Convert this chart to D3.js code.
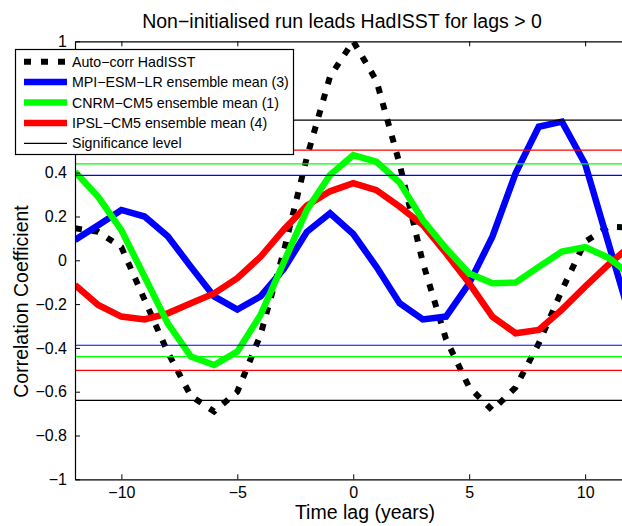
<!DOCTYPE html>
<html>
<head>
<meta charset="utf-8">
<script src="https://cdn.jsdelivr.net/npm/d3@7"></script>
<style>
  html, body { margin: 0; padding: 0; background: #fff; }
  svg { display: block; }
  text { font-family: "Liberation Sans", Arial, sans-serif; fill: #000; }
</style>
</head>
<body>
<svg id="chart" width="622" height="526"></svg>
<script>
// ---- data ----
const lags = [-12,-11,-10,-9,-8,-7,-6,-5,-4,-3,-2,-1,0,1,2,3,4,5,6,7,8,9,10,11,12];
const autoHadISST = [0.146,0.13,0.06,-0.18,-0.42,-0.62,-0.69,-0.6,-0.34,0.04,0.47,0.84,1.0,0.82,0.44,-0.01,-0.36,-0.58,-0.685,-0.58,-0.38,-0.136,0.085,0.153,0.15];
const mpiMean = [0.093,0.16,0.23,0.20,0.11,-0.03,-0.165,-0.225,-0.165,-0.04,0.13,0.215,0.12,-0.03,-0.196,-0.27,-0.257,-0.105,0.108,0.397,0.61,0.633,0.44,0.08,-0.28];
const cnrmMean = [0.405,0.29,0.138,-0.075,-0.288,-0.44,-0.478,-0.417,-0.25,-0.01,0.23,0.39,0.48,0.45,0.355,0.184,0.055,-0.06,-0.105,-0.102,-0.03,0.04,0.06,0.012,-0.07];
const ipslMean = [-0.113,-0.204,-0.257,-0.27,-0.242,-0.196,-0.151,-0.082,0.016,0.14,0.25,0.315,0.352,0.32,0.245,0.161,0.032,-0.105,-0.257,-0.333,-0.318,-0.225,-0.12,-0.02,0.07];
const sigLevels = [
  {name: "HadISST", value: 0.64, color: "#000000"},
  {name: "IPSL", value: 0.503, color: "#ff0000"},
  {name: "CNRM", value: 0.44, color: "#00ff00"},
  {name: "MPI", value: 0.388, color: "#0000ff"}
];
const xTicks = [-10,-5,0,5,10];
const yTicks = [-1,-0.8,-0.6,-0.4,-0.2,0,0.2,0.4,0.6,0.8,1];
const legendLabels = ["Auto\u2212corr HadISST","MPI\u2212ESM\u2212LR ensemble mean (3)","CNRM\u2212CM5 ensemble mean (1)","IPSL\u2212CM5 ensemble mean (4)","Significance level"];
const titleText = "Non\u2212initialised run leads HadISST for lags > 0";

// ---- layout ----
const svg = d3.select("#chart");
const L = 75, R = 631.5, T = 41.3, B = 479.3;
const x = d3.scaleLinear().domain([-12, 12]).range([L, R]);
const y = d3.scaleLinear().domain([-1, 1]).range([B, T]);
const fmt = v => (v < 0 ? "\u2212" : "") + (Math.abs(v) === 0 ? "0" : String(+Math.abs(v).toFixed(1)));

svg.append("defs").append("clipPath").attr("id", "plotclip")
  .append("rect").attr("x", L).attr("y", T).attr("width", R - L).attr("height", B - T);

const plot = svg.append("g").attr("clip-path", "url(#plotclip)");
const line = d3.line().x((d, i) => x(lags[i])).y(d => y(d));

// series
plot.append("path").datum(autoHadISST).attr("d", line)
  .attr("fill", "none").attr("stroke", "#000").attr("stroke-width", 6)
  .attr("stroke-dasharray", "7,10");
plot.append("path").datum(mpiMean).attr("d", line)
  .attr("fill", "none").attr("stroke", "#0000ff").attr("stroke-width", 6.5).attr("stroke-linejoin", "miter");
plot.append("path").datum(ipslMean).attr("d", line)
  .attr("fill", "none").attr("stroke", "#ff0000").attr("stroke-width", 6.5).attr("stroke-linejoin", "miter");
plot.append("path").datum(cnrmMean).attr("d", line)
  .attr("fill", "none").attr("stroke", "#00ff00").attr("stroke-width", 6.5).attr("stroke-linejoin", "miter");

// significance levels
sigLevels.forEach(s => {
  [s.value, -s.value].forEach(v => {
    plot.append("line").attr("x1", L).attr("x2", R).attr("y1", y(v)).attr("y2", y(v))
      .attr("stroke", s.color).attr("stroke-width", 1.2);
  });
});

// axes (MATLAB style, inward ticks)
const axB = d3.axisBottom(x).tickValues(xTicks).tickSizeInner(-5).tickSizeOuter(0).tickPadding(11).tickFormat(fmt);
const gB = svg.append("g").attr("transform", `translate(0,${B})`).call(axB);
const axT = d3.axisTop(x).tickValues(xTicks).tickSizeInner(-5).tickSizeOuter(0).tickFormat("");
const gT = svg.append("g").attr("transform", `translate(0,${T})`).call(axT);
const axL = d3.axisLeft(y).tickValues(yTicks).tickSizeInner(-5).tickSizeOuter(0).tickPadding(8).tickFormat(fmt);
const gL = svg.append("g").attr("transform", `translate(${L},0)`).call(axL);
[gB, gT, gL].forEach(g => {
  g.select(".domain").attr("stroke", "#000").attr("stroke-width", 1.2);
  g.selectAll(".tick line").attr("stroke", "#000").attr("stroke-width", 1);
  g.selectAll("text").style("font-family", "'Liberation Sans', Arial, sans-serif").style("font-size", "16px").attr("fill", "#000");
});
gB.selectAll(".tick text").attr("dy", "0.71em").attr("y", 7);

// titles
svg.append("text").attr("x", 342).attr("y", 28).attr("text-anchor", "middle")
  .style("font-size", "19.5px").text(titleText);
svg.append("text").attr("x", 365).attr("y", 519).attr("text-anchor", "middle")
  .style("font-size", "19.5px").text("Time lag (years)");
svg.append("text").attr("transform", "translate(28,301.5) rotate(-90)").attr("text-anchor", "middle")
  .style("font-size", "19.5px").text("Correlation Coefficient");

// legend
const lg = svg.append("g");
lg.append("rect").attr("x", 15.5).attr("y", 49.5).attr("width", 278).attr("height", 105)
  .attr("fill", "#fff").attr("stroke", "#000").attr("stroke-width", 1.2);
const legendStyles = [
  {color: "#000", w: 6, dash: "7,10"},
  {color: "#0000ff", w: 6.5, dash: null},
  {color: "#00ff00", w: 6.5, dash: null},
  {color: "#ff0000", w: 6.5, dash: null},
  {color: "#000", w: 1.2, dash: null}
];
legendLabels.forEach((lab, i) => {
  const yy = 61.7 + i * 20.4;
  const st = legendStyles[i];
  const ln = lg.append("line").attr("x1", 24).attr("x2", 67).attr("y1", yy).attr("y2", yy)
    .attr("stroke", st.color).attr("stroke-width", st.w);
  if (st.dash) ln.attr("stroke-dasharray", st.dash);
  lg.append("text").attr("x", 72).attr("y", yy).attr("dy", "0.36em")
    .style("font-size", "14.2px").text(lab);
});
</script>
</body>
</html>
